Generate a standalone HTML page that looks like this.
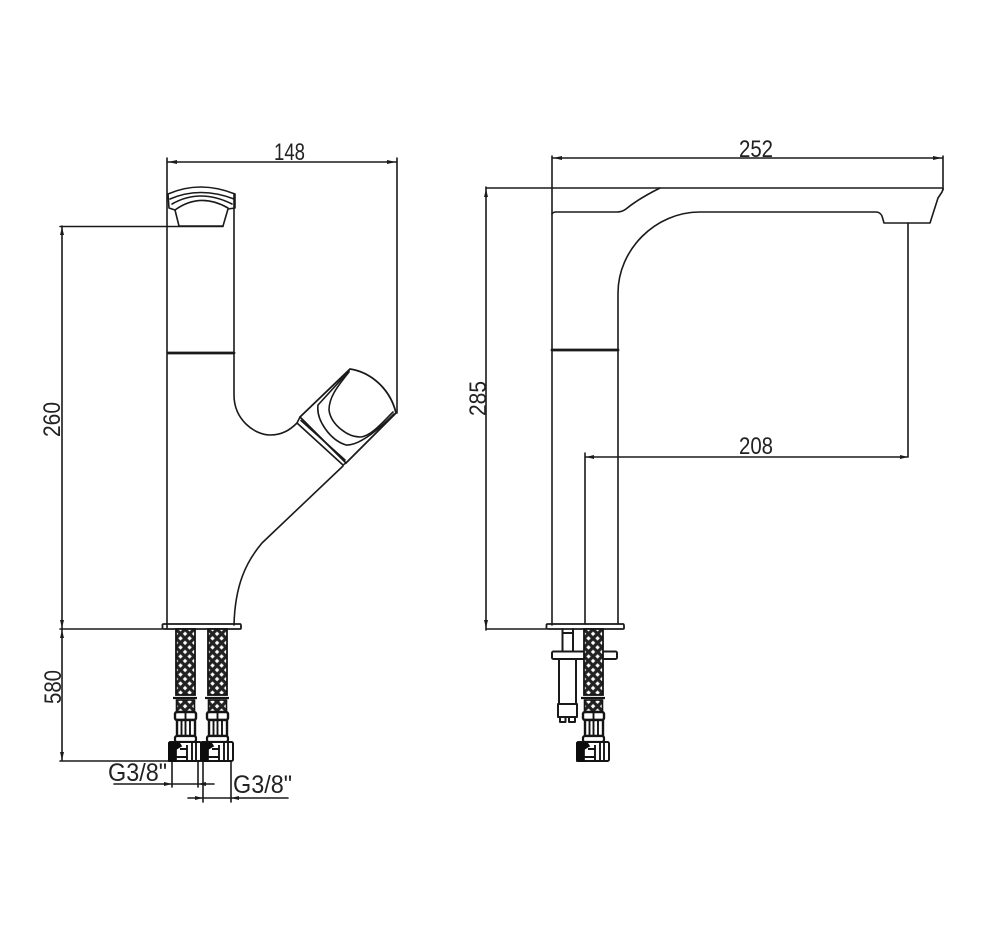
<!DOCTYPE html>
<html><head><meta charset="utf-8"><style>
html,body{margin:0;padding:0;background:#fff;width:1000px;height:947px;overflow:hidden}
svg{display:block}
text{font-family:"Liberation Sans",sans-serif;fill:#222;font-size:24px}
</style></head><body>
<svg width="1000" height="947" viewBox="0 0 1000 947" xmlns="http://www.w3.org/2000/svg">
<defs>
<pattern id="br" width="6.4" height="6.4" patternUnits="userSpaceOnUse" patternTransform="rotate(45)">
<rect width="6.4" height="6.4" fill="#222"/><rect x="1.8" y="1.8" width="3.2" height="3.2" fill="#fff"/>
</pattern>
<g id="fit" fill="none" stroke="#141414" stroke-width="1.7">
<!-- origin: hose left edge at x=0,y=629 -->
<rect x="0" y="0" width="19" height="66" fill="url(#br)" stroke-width="1.8"/>
<path d="M-3 69H21" stroke-width="2.2"/>
<rect x="0.5" y="71" width="18" height="12" fill="url(#br)" stroke-width="1.6"/>
<rect x="-1" y="83" width="21" height="8" rx="2" fill="#fff" stroke-width="2.4"/>
<rect x="1" y="91" width="18" height="16" fill="#fff" stroke-width="2.4"/>
<path d="M5.5 91V107M9.5 83V113M14 91V107" stroke-width="1.9"/>
<rect x="-1" y="107" width="21" height="6" rx="2" fill="#fff" stroke-width="2.2"/>
<rect x="-7" y="113" width="32" height="19" rx="1.5" fill="#fff" stroke-width="2"/>
<path d="M-7 114H3L5 117L0 120V132H-7Z" fill="#0c0c0c" stroke="#0c0c0c"/>
<path d="M4 120H11V128H0M11 116V131M16 114V132M20 114V132" stroke-width="1.9"/>
</g>
</defs>

<g fill="none" stroke="#1a1a1a" stroke-width="1.6" stroke-linejoin="round" stroke-linecap="round">
<!-- LEFT VIEW: dimensions -->
<path d="M167 158V628M397 158V413M168 162H396"/>
<path d="M62 226V761M60 226.5H223M60 629H162M60 761H170"/>
<path d="M172 762V787M198 762V787M114 784H214M203 762V802M231 762V802M188 798H288"/>
<g fill="#1a1a1a" stroke="none">
<path d="M168 162l9-2v4zM396 162l-9-2v4zM62 227l-2 8h4zM62 628l-2-8h4zM62 630l-2 8h4zM62 760l-2-8h4zM172 784l-8-2v4zM198 784l8-2v4zM203 798l-8-2v4zM231 798l8-2v4z"/>
</g>
<!-- LEFT VIEW: top handle -->
<path d="M168 194Q200 180 235 194L235 208L228 209L223 226H179L175 210L169 208Z"/>
<path d="M170 199Q200 186 234 199M175 210Q200 192 228 208M172 204Q200 188 232 204"/>
<!-- LEFT VIEW: body -->
<path d="M234 194V395C234 420 255 435 270 435C282 435 290 430 297 423"/>
<path d="M168 353H234" stroke-width="2.8"/>
<!-- LEFT VIEW: lever -->
<path d="M300 417L350 369C370 372 390 388 396 413L346 463Z" stroke-width="1.8"/>
<path d="M349 371L318 405C316 420 330 440 346 445C360 446 380 428 394 414"/>
<path d="M349 372C336 388 329 398 329 410C331 425 348 437 360 437C370 437 382 423 393 412"/>
<path d="M297 423L300 417M297 423L343 465L346 463M301 420.5L345 460"/>
<path d="M343 466L262 543C246 562 235 585 234 625"/>
<!-- LEFT VIEW: base -->
<path d="M162.5 625.5Q162 624 164 624H240Q241 624 241 626V628Q241 629 240 629H164Q162 629 162.5 627Z" stroke-width="1.8"/>
</g>
<use href="#fit" x="176" y="629"/>
<use href="#fit" x="208" y="629"/>

<g fill="none" stroke="#1a1a1a" stroke-width="1.6" stroke-linejoin="round" stroke-linecap="round">
<!-- RIGHT VIEW: dimensions -->
<path d="M552 156V625M943 156V190M553 158H942"/>
<path d="M486 187V630M486 188H943M486 629H546"/>
<path d="M908 223V457M585 457H908M585 453V624"/>
<g fill="#1a1a1a" stroke="none">
<path d="M553 158l9-2v4zM942 158l-9-2v4zM486 189l-2 8h4zM486 628l-2-8h4zM586 457l8-2v4zM908 457l-8-2v4z"/>
</g>
<!-- RIGHT VIEW: spout -->
<path d="M943 189L942 192L938 198L930 223H884L882 216Q880 212 876 212H700C655 212 618 250 618 293V624"/>
<path d="M552 214Q553 212 556 212H617Q622 212 626 209C632 204 640 198 660 188"/>
<path d="M552 350H618" stroke-width="2.8"/>
<!-- RIGHT VIEW: base -->
<path d="M546.5 625.5Q546 624 548 624H623Q624 624 624 626V628Q624 629 623 629H548Q546 629 546.5 627Z" stroke-width="1.8"/>
<!-- stud -->
<path d="M562.5 629V652M573 629V652M562.5 633H573" stroke-width="2"/>
<rect x="552" y="651.5" width="65" height="7.5" rx="1.5" fill="#fff" stroke-width="2"/>
<path d="M559 659V704M576 659V704" stroke-width="2"/>
<path d="M558 704H577V717H558ZM560 717V722H565.5V717M569 717V722H575V717" stroke-width="2"/>
</g>
<use href="#fit" x="584" y="629"/>

<!-- Labels -->
<text x="274" y="160" textLength="31" lengthAdjust="spacingAndGlyphs">148</text>
<text x="739" y="157" textLength="34" lengthAdjust="spacingAndGlyphs">252</text>
<text x="739" y="454" textLength="34" lengthAdjust="spacingAndGlyphs">208</text>
<text transform="translate(60 437) rotate(-90)" textLength="35" lengthAdjust="spacingAndGlyphs">260</text>
<text transform="translate(486 416) rotate(-90)" textLength="35" lengthAdjust="spacingAndGlyphs">285</text>
<text transform="translate(61 704) rotate(-90)" textLength="34" lengthAdjust="spacingAndGlyphs">580</text>
<text x="108" y="781" style="font-size:25px" textLength="59" lengthAdjust="spacingAndGlyphs">G3/8"</text>
<text x="233" y="793" style="font-size:25px" textLength="59" lengthAdjust="spacingAndGlyphs">G3/8"</text>
</svg>
</body></html>
